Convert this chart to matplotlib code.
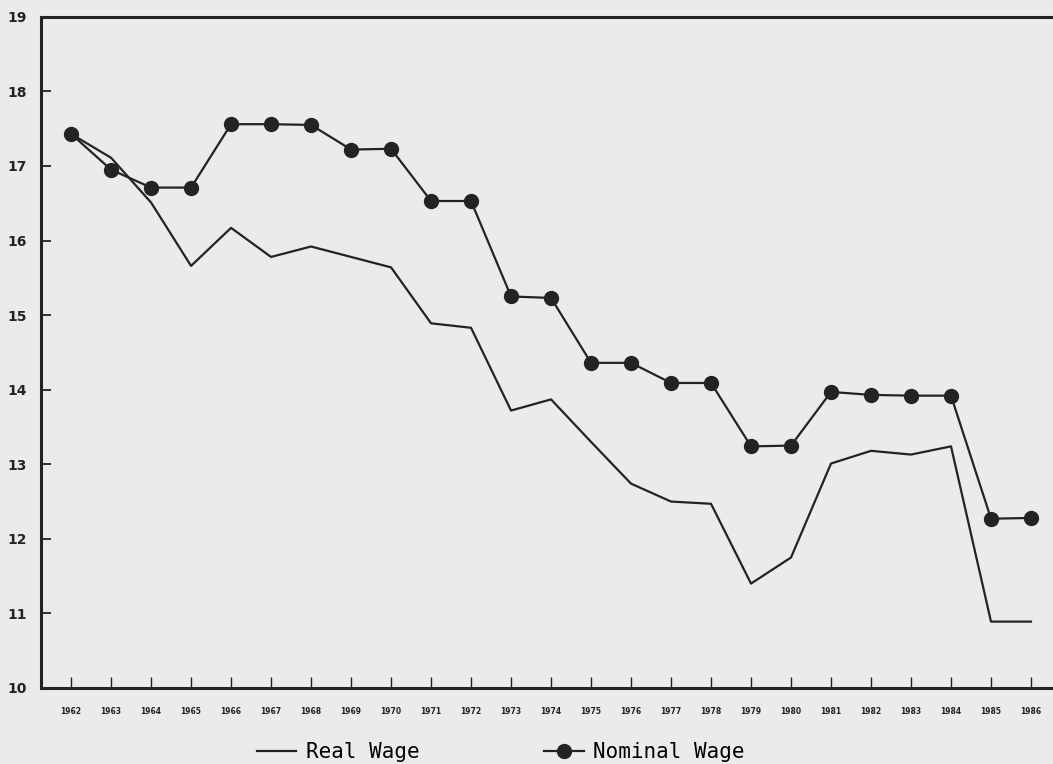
import matplotlib.pyplot as plt

years = list(range(1962, 1987))
real_wage = [17.43, 17.11, 16.51, 15.66, 16.17, 15.78, 15.92, 15.78, 15.64, 14.89,
             14.83, 13.72, 13.87, 13.30, 12.74, 12.50, 12.47, 11.40, 11.75, 13.01,
             13.18, 13.13, 13.24, 10.89, 10.89]
nominal_wage = [17.43, 16.95, 16.71, 16.71, 17.56, 17.56, 17.55, 17.22, 17.23, 16.53,
                16.53, 15.25, 15.23, 14.36, 14.36, 14.09, 14.09, 13.24, 13.25, 13.97,
                13.93, 13.92, 13.92, 12.27, 12.28]

ink = '#232323'
paper = '#ebebeb'

fig = plt.figure(figsize=(10.53, 7.64), dpi=100, facecolor=paper)
ax = fig.add_axes([0.039, 0.0995, 0.961, 0.8785], facecolor=paper)

ax.plot(years, real_wage, color=ink, lw=1.6, label='Real Wage')
ax.plot(years, nominal_wage, color=ink, lw=1.6, marker='o', markersize=10,
        label='Nominal Wage')

ax.set_xlim(1961.25, 1961.25 + 1012 / 40)
ax.set_ylim(10, 19)

ax.spines['right'].set_visible(False)
for s in ['left', 'top', 'bottom']:
    ax.spines[s].set_linewidth(2.2)
    ax.spines[s].set_color(ink)

ax.set_yticks(range(10, 20))
ax.set_yticklabels([str(v) for v in range(10, 20)], fontsize=10, fontweight='bold',
                   color=ink)
ax.tick_params(axis='y', direction='in', length=7, width=1.3, color=ink, pad=10)

ax.set_xticks(years)
ax.set_xticklabels([str(y) for y in years], fontsize=5.5, fontweight='bold', color=ink)
ax.tick_params(axis='x', direction='in', length=8, width=1.0, color=ink, pad=14)

fig.legend(loc='center left', bbox_to_anchor=(0.226, 0.0157), ncol=2, frameon=False,
           handlelength=1.9, handletextpad=0.45, columnspacing=6,
           prop={'family': 'DejaVu Sans Mono', 'size': 15})

fig.savefig('out.png', dpi=100, facecolor=paper)
